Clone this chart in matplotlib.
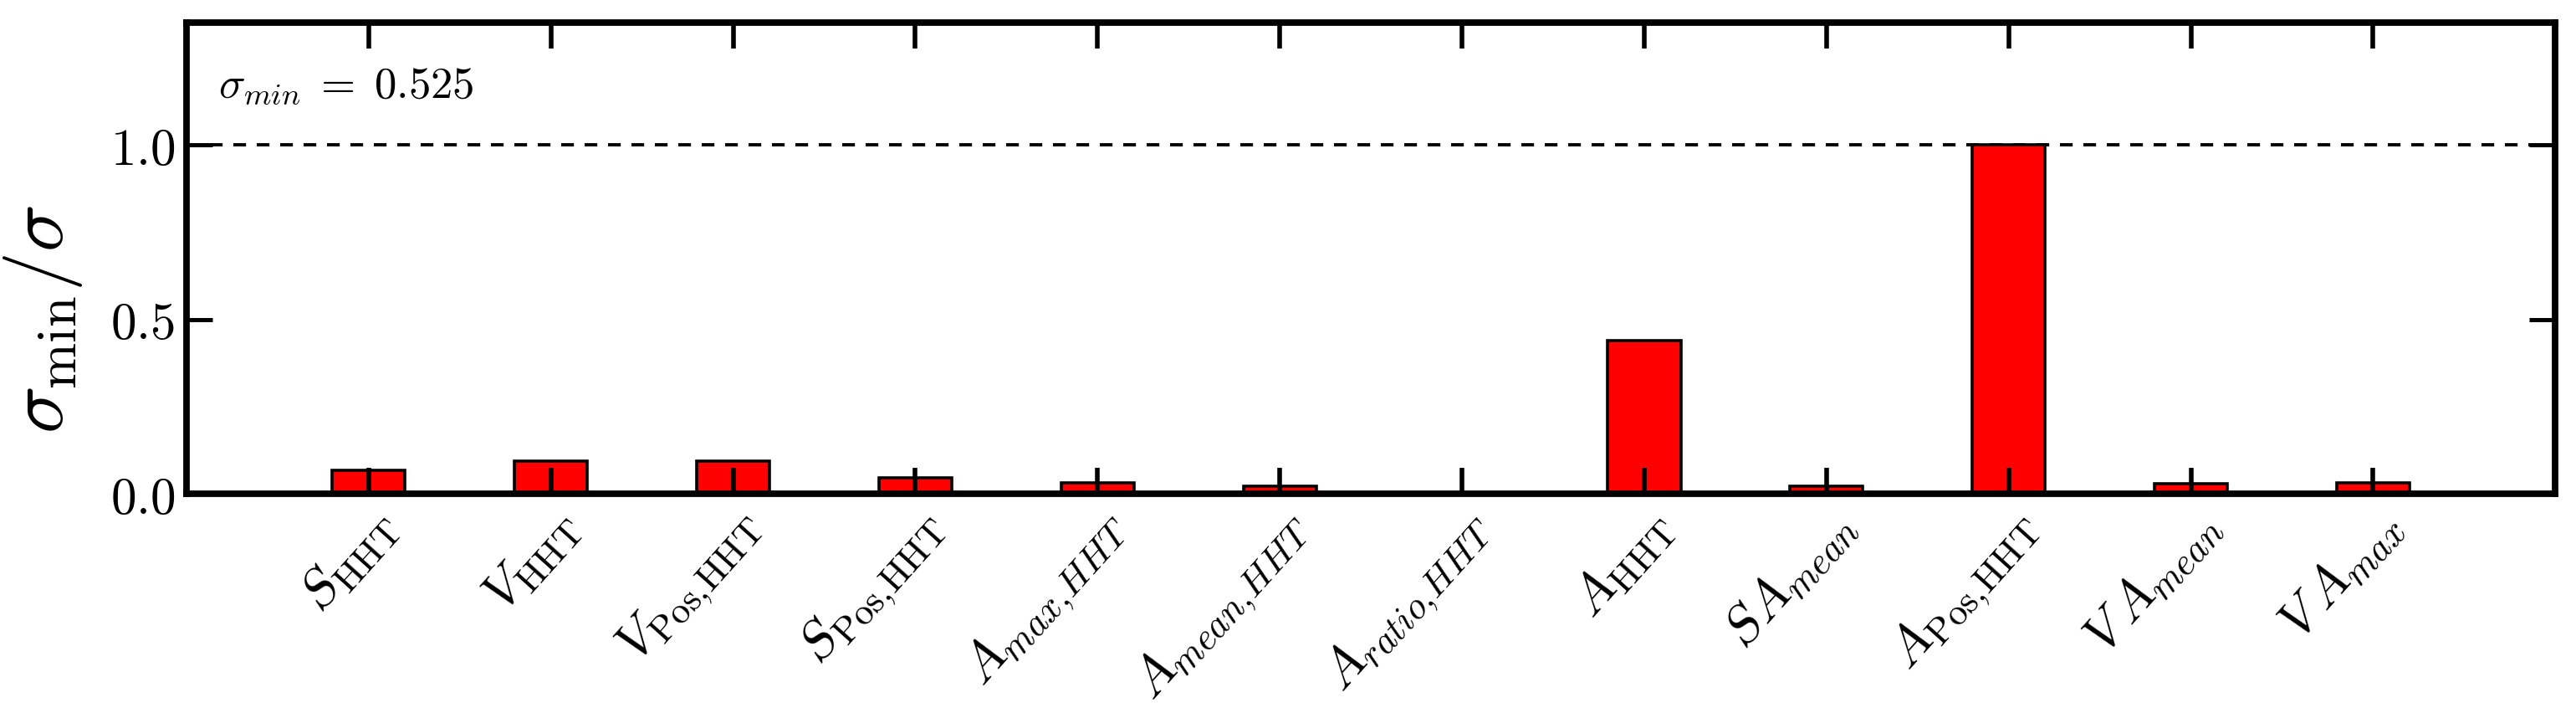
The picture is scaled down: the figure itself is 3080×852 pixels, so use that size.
import matplotlib
matplotlib.use('Agg')
import matplotlib.pyplot as plt
import numpy as np

# data
labels = [r'$S_{\mathrm{HHT}}$', r'$V_{\mathrm{HHT}}$', r'$V_{\mathrm{Pos},\!\mathrm{HHT}}$', r'$S_{\mathrm{Pos},\!\mathrm{HHT}}$',
          r'$A_{max,\!HHT}$', r'$A_{mean,\!HHT}$', r'$A_{ratio,\!HHT}$', r'$A_{\mathrm{HHT}}$',
          r'$SA_{mean}$', r'$A_{\mathrm{Pos},\!\mathrm{HHT}}$', r'$V\,A_{mean}$', r'$V\,A_{max}$']
ratio = [0.068, 0.094, 0.094, 0.045, 0.031, 0.021, 0.0, 0.438, 0.022, 1.0, 0.028, 0.031]
yticks = [0.0, 0.5, 1.0]
ytick_labels = [r'$0.0$', r'$0.5$', r'$1.0$']
sigma_min = 0.525

plt.rcParams['mathtext.fontset'] = 'cm'
plt.rcParams['font.family'] = 'serif'

fig = plt.figure(figsize=(15.4, 4.26), dpi=200)
ax = fig.add_axes([0.0724, 0.3075, 0.9196, 0.6605])

x = np.arange(1, len(ratio) + 1)
ax.bar(x, ratio, width=0.4, color='#ff0000', edgecolor='black', linewidth=1.3, zorder=1)
ax.axhline(1.0, color='black', linestyle=(0, (3.9, 3.3)), linewidth=1.4, zorder=0.5)

ax.set_xlim(0, len(ratio) + 1)
ax.set_ylim(0, 1.35)
ax.set_xticks(x)
ax.set_xticklabels(labels, rotation=48, ha='right', va='top', rotation_mode='anchor', fontsize=23)
ax.set_yticks(yticks)
ax.set_yticklabels(ytick_labels, fontsize=22)

ax.tick_params(axis='x', which='both', direction='in', top=True, bottom=True, length=11, width=2.0, pad=3)
ax.tick_params(axis='y', which='both', direction='in', left=True, right=True, length=11, width=1.8, pad=5)
for s in ax.spines.values():
    s.set_linewidth(2.8)

ax.set_ylabel(r'$\sigma_{\mathrm{min}}/\sigma$', fontsize=34)
ax.yaxis.set_label_coords(-0.043, 0.37)
ax.text(0.0134, 0.866, r'$\sigma_{min}\;=\;%.3f$' % sigma_min, transform=ax.transAxes,
        fontsize=19, ha='left', va='center')

fig.savefig('out.png', dpi=200)
